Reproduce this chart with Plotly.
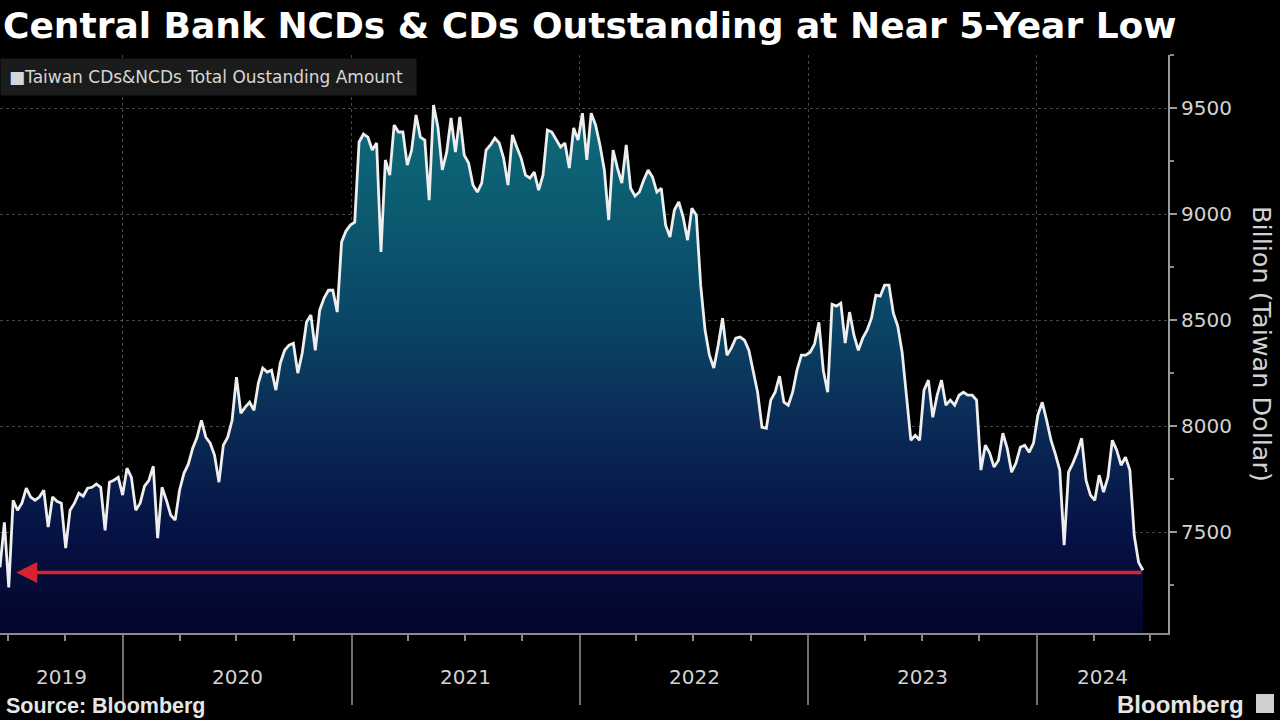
import plotly.graph_objects as go
import pandas as pd

# ---------------- data ----------------
start_date = "2019-06-19"          # first weekly observation
outstanding = [
    7335, 7547, 7240, 7651, 7604, 7637, 7708, 7666, 7651, 7666,
    7698, 7524, 7666, 7646, 7637, 7425, 7604, 7637, 7684, 7670,
    7708, 7712, 7727, 7712, 7509, 7736, 7745, 7759, 7675, 7802,
    7759, 7604, 7637, 7717, 7745, 7811, 7472, 7712, 7651, 7580,
    7557, 7698, 7778, 7821, 7896, 7948, 8028, 7948, 7920, 7863,
    7736, 7910, 7948, 8028, 8231, 8061, 8090, 8113, 8075, 8203,
    8274, 8255, 8264, 8170, 8297, 8358, 8382, 8391, 8250, 8344,
    8491, 8524, 8358, 8547, 8604, 8641, 8641, 8538, 8868, 8920,
    8948, 8962, 9340, 9377, 9363, 9302, 9335, 8821, 9255, 9184,
    9420, 9387, 9387, 9231, 9302, 9467, 9363, 9349, 9066, 9514,
    9410, 9208, 9292, 9453, 9292, 9458, 9278, 9241, 9137, 9104,
    9146, 9302, 9326, 9358, 9335, 9264, 9137, 9373, 9316, 9264,
    9184, 9170, 9198, 9113, 9184, 9396, 9387, 9349, 9316, 9335,
    9217, 9406, 9349, 9476, 9255, 9476, 9420, 9326, 9208, 8972,
    9302, 9217, 9146, 9326, 9122, 9085, 9104, 9160, 9208, 9175,
    9104, 9122, 8948, 8892, 9019, 9057, 8986, 8877, 9028, 8995,
    8665, 8453, 8335, 8274, 8382, 8509, 8335, 8368, 8415, 8420,
    8406, 8358, 8255, 8160, 7995, 7990, 8123, 8160, 8236, 8113,
    8099, 8160, 8264, 8335, 8335, 8349, 8387, 8490, 8264, 8160,
    8575, 8566, 8580, 8392, 8538, 8429, 8358, 8415, 8453, 8509,
    8618, 8613, 8665, 8665, 8533, 8472, 8349, 8123, 7934, 7957,
    7934, 8170, 8217, 8042, 8146, 8217, 8099, 8123, 8099, 8146,
    8160, 8146, 8146, 8123, 7793, 7910, 7873, 7807, 7840, 7967,
    7896, 7783, 7826, 7901, 7910, 7877, 7920, 8052, 8113, 8028,
    7934, 7868, 7793, 7439, 7783, 7826, 7877, 7943, 7745, 7675,
    7651, 7769, 7689, 7759, 7934, 7887, 7816, 7854, 7793, 7486,
    7358, 7321,
]
dates = pd.date_range(start_date, periods=len(outstanding), freq="7D")

year_labels = ["2019", "2020", "2021", "2022", "2023", "2024"]
year_starts = ["2020-01-01", "2021-01-01", "2022-01-01", "2023-01-01", "2024-01-01"]
x_range = ["2019-06-19", "2024-07-29"]
y_range = [7025, 9750]
y_ticks = [7500, 8000, 8500, 9000, 9500]

low_level = 7310
arrow_tip_date = "2019-07-15"
arrow_tail_date = "2024-06-19"

title_text = "Central Bank NCDs & CDs Outstanding at Near 5-Year Low"
legend_text = "Taiwan CDs&NCDs Total Oustanding Amount"
y_title = "Billion (Taiwan Dollar)"

# ---------------- figure ----------------
fig = go.Figure()

fig.add_trace(go.Scatter(
    x=dates, y=outstanding, mode="lines",
    line=dict(color="#eeeeee", width=2.8),
    fill="tozeroy",
    fillgradient=dict(
        type="vertical",
        start=y_range[0], stop=9500,
        colorscale=[[0.0, "#03052a"], [0.19, "#061244"], [0.39, "#0a2a55"],
                    [0.6, "#0a4666"], [0.8, "#0b5a70"], [1.0, "#0f6b79"]],
    ),
    hoverinfo="skip", showlegend=False,
))

grid_col = "rgba(140,140,140,0.5)"
tick_font = dict(family="DejaVu Sans", size=20, color="#d2d2d2")

fig.update_layout(
    width=1280, height=720,
    paper_bgcolor="#000000", plot_bgcolor="#000000",
    margin=dict(l=0, r=112, t=55, b=87),
    xaxis=dict(
        type="date", range=x_range,
        tickmode="array", tickvals=year_starts, showticklabels=False,
        ticks="outside", ticklen=70, tickcolor="#707070", tickwidth=1.5,
        showgrid=True, gridcolor=grid_col, griddash="dot", gridwidth=1,
        showline=True, linecolor="#8a8a8a", linewidth=2,
        minor=dict(dtick="M3", tick0="2019-01-01", ticks="outside",
                   ticklen=6, tickcolor="#8a8a8a", tickwidth=1.5, showgrid=False),
        zeroline=False, fixedrange=True,
    ),
    yaxis=dict(
        side="right", range=y_range,
        tickmode="array", tickvals=y_ticks,
        ticks="outside", ticklen=7, tickcolor="#9a9a9a", tickwidth=1.5,
        tickfont=tick_font,
        showgrid=True, gridcolor=grid_col, griddash="dot", gridwidth=1,
        showline=True, linecolor="#9a9a9a", linewidth=2,
        minor=dict(dtick=250, tick0=7000, ticks="outside", ticklen=4,
                   tickcolor="#8a8a8a", tickwidth=1.5, showgrid=False),
        zeroline=False, fixedrange=True,
    ),
    showlegend=False,
)

# year labels centred in visible part of each year
bounds = [pd.Timestamp(x_range[0])] + [pd.Timestamp(d) for d in year_starts] + [pd.Timestamp(x_range[1])]
for i, lab in enumerate(year_labels):
    mid = bounds[i] + (bounds[i + 1] - bounds[i]) / 2
    fig.add_annotation(x=mid, y=0, xref="x", yref="paper", yanchor="middle",
                       yshift=-44, text=lab, showarrow=False, font=tick_font)

# red arrow at the low level
fig.add_annotation(x=arrow_tip_date, y=low_level, ax=arrow_tail_date, ay=low_level,
                   xref="x", yref="y", axref="x", ayref="y", text="",
                   showarrow=True, arrowhead=2, arrowsize=1.2, arrowwidth=3.5,
                   arrowcolor="#d8232f", standoff=0, startstandoff=0)

# title
fig.add_annotation(x=0, y=1, xref="paper", yref="paper", xanchor="left", yanchor="middle",
                   xshift=1, yshift=30, text="<b>" + title_text + "</b>", showarrow=False,
                   font=dict(family="DejaVu Sans", size=36, color="#ffffff"))

# legend box
fig.add_annotation(x=0, y=1, xref="paper", yref="paper", xanchor="left", yanchor="top",
                   yshift=-3, text="■" + legend_text + " ", showarrow=False,
                   bgcolor="#1b1b1b", borderpad=8,
                   font=dict(family="DejaVu Sans", size=17, color="#d6d6d6"))

# y-axis title (reads top to bottom)
fig.add_annotation(x=1, y=0.5, xref="paper", yref="paper", xanchor="center", yanchor="middle",
                   xshift=94, yshift=0, text=y_title, textangle=90, showarrow=False,
                   font=dict(family="DejaVu Sans", size=25.5, color="#d2d2d2"))

# source / brand
fig.add_annotation(x=0, y=0, xref="paper", yref="paper", xanchor="left", yanchor="middle",
                   xshift=4, yshift=-73, text="<b>Source: Bloomberg</b>", showarrow=False,
                   font=dict(family="Liberation Sans", size=21.5, color="#e6e6e6"))
fig.add_annotation(x=1, y=0, xref="paper", yref="paper", xanchor="right", yanchor="middle",
                   xshift=78, yshift=-71, text="<b>Bloomberg</b>", showarrow=False,
                   font=dict(family="Liberation Sans", size=24, color="#e6e6e6"))
fig.add_shape(type="rect", xref="paper", yref="paper",
              x0=1256 / 1168, x1=1274 / 1168, y0=-(713 - 633) / 578, y1=-(694 - 633) / 578,
              fillcolor="#cfcfcf", line=dict(width=0))

fig.write_html("out.html")
